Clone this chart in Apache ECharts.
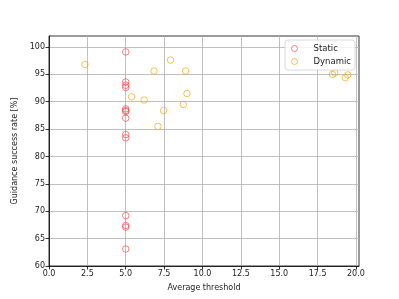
<!DOCTYPE html>
<html>
<head>
<meta charset="utf-8">
<script src="https://cdn.jsdelivr.net/npm/echarts@6/dist/echarts.min.js"></script>
<style>html,body{margin:0;padding:0;background:#fff}#c{width:399px;height:299px}</style>
</head>
<body>
<div id="c"></div>
<script>
const staticX = [5,5,5,5,5,5,5,5,5,5,5,5,5,5];
const staticY = [99.1,93.6,93.0,92.6,88.7,88.4,88.2,87.0,84.0,83.4,69.2,67.4,67.1,63.1];
const dynamicX = [2.34,5.38,6.2,6.84,7.92,8.9,8.99,8.75,7.47,7.1,18.47,18.62,19.3,19.47];
const dynamicY = [96.8,90.9,90.3,95.6,97.6,95.6,91.5,89.5,88.4,85.5,95.0,95.25,94.4,94.9];
const xTicks = [0,2.5,5,7.5,10,12.5,15,17.5,20];
const yTicks = [60,65,70,75,80,85,90,95,100];

const font = 'DejaVu Sans';
const txt = '#222';
function pairs(xs, ys){ return xs.map((x,i)=>[x, ys[i]]); }

const chart = echarts.init(document.getElementById('c'), null, {renderer:'canvas'});
chart.setOption({
  animation:false,
  backgroundColor:'#fff',
  grid:{left:49,right:40,top:36,bottom:33,show:true,borderColor:'#000',borderWidth:0.8,backgroundColor:'transparent'},
  legend:{
    orient:'vertical', left:285, top:40,
    padding:[4,4,4,6], itemWidth:12, itemHeight:6, itemGap:4,
    backgroundColor:'rgba(255,255,255,0.8)', borderColor:'#d0d0d0', borderWidth:0.8, borderRadius:3,
    itemStyle:{borderWidth:1},
    textStyle:{fontFamily:font,fontSize:8.5,color:txt,padding:[0,0,0,8]},
    data:['Static','Dynamic']
  },
  xAxis:{
    type:'value', min:0, max:20.2, interval:2.5,
    name:'Average threshold', nameLocation:'middle', nameGap:18,
    nameTextStyle:{fontFamily:font,fontSize:8,color:txt},
    axisLine:{show:true,lineStyle:{color:'#000',width:0.8}},
    axisTick:{show:true,length:3.5,lineStyle:{color:'#000',width:0.8},customValues:xTicks},
    axisLabel:{fontFamily:font,fontSize:8,color:txt,margin:4,customValues:xTicks,formatter:v=>v.toFixed(1)},
    splitLine:{show:true,lineStyle:{color:'#b0b0b0',width:0.8}}
  },
  yAxis:{
    type:'value', min:60, max:102, interval:5,
    name:'Guidance success rate [%]', nameLocation:'middle', nameGap:22,
    nameTextStyle:{fontFamily:font,fontSize:8,color:txt},
    axisLine:{show:true,lineStyle:{color:'#000',width:0.8}},
    axisTick:{show:true,length:3.5,lineStyle:{color:'#000',width:0.8},customValues:yTicks},
    axisLabel:{fontFamily:font,fontSize:8,color:txt,margin:4,customValues:yTicks},
    splitLine:{show:true,lineStyle:{color:'#b0b0b0',width:0.8}}
  },
  series:[
    {name:'Static',type:'scatter',symbol:'circle',symbolSize:6.5,
     itemStyle:{color:'transparent',borderColor:'rgba(240,40,40,0.7)',borderWidth:1},
     data:pairs(staticX,staticY)},
    {name:'Dynamic',type:'scatter',symbol:'circle',symbolSize:6.5,
     itemStyle:{color:'transparent',borderColor:'rgba(245,165,0,0.85)',borderWidth:1},
     data:pairs(dynamicX,dynamicY)}
  ]
});
</script>
</body>
</html>
